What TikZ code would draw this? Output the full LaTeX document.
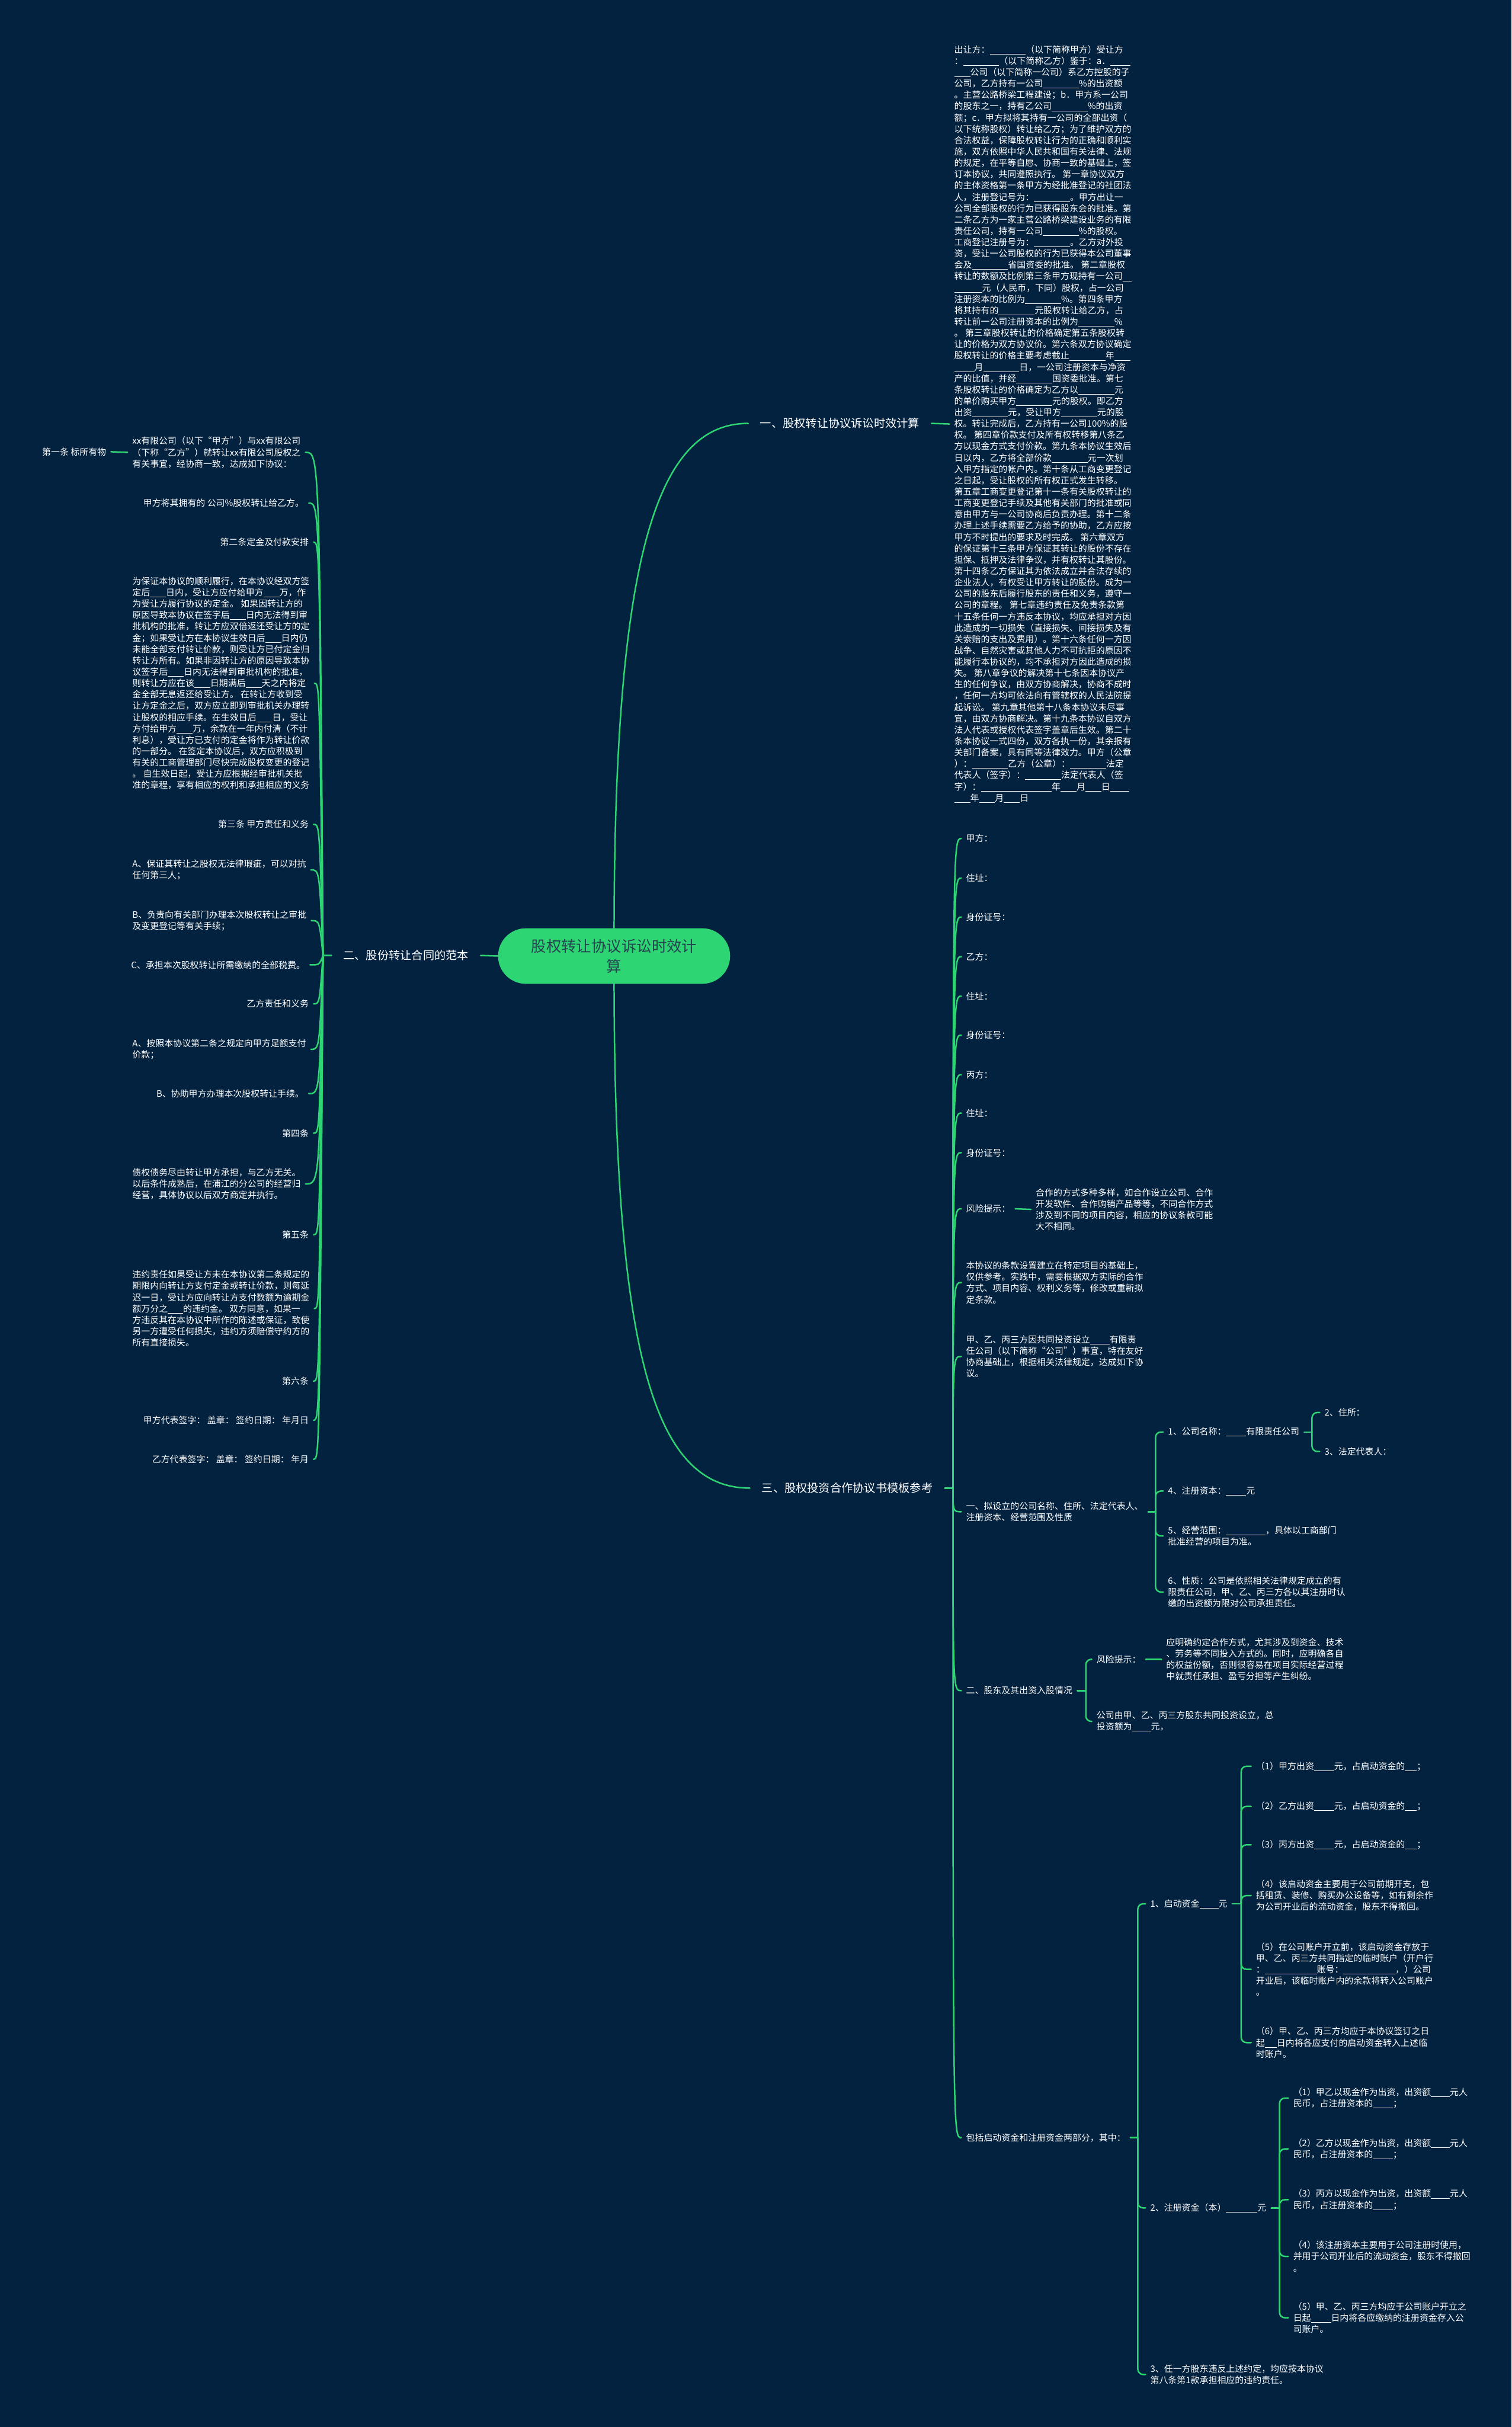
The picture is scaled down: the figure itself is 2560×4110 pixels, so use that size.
\documentclass[tikz,border=0pt]{standalone}
\usepackage{fontspec}
\setmainfont{Noto Sans CJK SC}
\definecolor{bg}{HTML}{022240}
\definecolor{lk}{HTML}{2ED573}
\definecolor{rtx}{HTML}{24444F}
% 空白下划线
\newcommand{\kong}[1]{\rule[-2.5pt]{#1pt}{0.9pt}}

\begin{document}
\begin{tikzpicture}[x=1pt, y=-1pt,
    root/.style={fill=lk, text=rtx, rounded corners=47pt, minimum width=393pt, minimum height=94pt, align=center, font=\fontsize{25.5}{34}\selectfont},
    lab/.style={text=white, inner xsep=20pt, font=\fontsize{19.3}{26}\selectfont},
    txt/.style={text=white, align=left, inner xsep=8pt, inner ysep=1pt, font=\fontsize{15}{19.2}\selectfont},
    link/.style={draw=lk, line width=2.5pt, line cap=round},
    brk/.style={link, rounded corners=9pt}]
    % 背景
    \fill[bg] (0,0) rectangle (2560,4110);
    \useasboundingbox (0,0) rectangle (2560,4110);

    % 中心主题
    \node[root] (root) at (1040,1619) {股权转让协议诉讼时效计\\算};

    % 三个分支
    \node[lab, anchor=west] (b1) at (1267,717) {一、股权转让协议诉讼时效计算};
    \node[lab, anchor=east] (b2) at (814,1618) {二、股份转让合同的范本};
    \node[lab, anchor=west] (b3) at (1270,2520) {三、股权投资合作协议书模板参考};
    \draw[link] (root.north) .. controls (1041,950) and (1110,717) .. (b1.west);
    \draw[link] (root.south) .. controls (1041,2300) and (1110,2520) .. (b3.west);
    \draw[link] (root.west) -- (b2.east);

    % 分支一：协议全文
    \node[txt, anchor=west] (t1) at (1608,718) {出让方：\kong{61}（以下简称甲方）受让方\\
：\kong{61}（以下简称乙方）鉴于：a．\kong{34}\\
\kong{27}公司（以下简称一公司）系乙方控股的子\\
公司，乙方持有一公司\kong{61}\%的出资额\\
。主营公路桥梁工程建设；b．甲方系一公司\\
的股东之一，持有乙公司\kong{61}\%的出资\\
额；c．甲方拟将其持有一公司的全部出资（\\
以下统称股权）转让给乙方；为了维护双方的\\
合法权益，保障股权转让行为的正确和顺利实\\
施，双方依照中华人民共和国有关法律、法规\\
的规定，在平等自愿、协商一致的基础上，签\\
订本协议，共同遵照执行。 第一章协议双方\\
的主体资格第一条甲方为经批准登记的社团法\\
人，注册登记号为：\kong{61}。甲方出让一\\
公司全部股权的行为已获得股东会的批准。第\\
二条乙方为一家主营公路桥梁建设业务的有限\\
责任公司，持有一公司\kong{61}\%的股权。\\
工商登记注册号为：\kong{61}。乙方对外投\\
资，受让一公司股权的行为已获得本公司董事\\
会及\kong{61}省国资委的批准。 第二章股权\\
转让的数额及比例第三条甲方现持有一公司\kong{15}\\
\kong{47}元（人民币，下同）股权，占一公司\\
注册资本的比例为\kong{61}\%。第四条甲方\\
将其持有的\kong{61}元股权转让给乙方，占\\
转让前一公司注册资本的比例为\kong{61}\%\\
。 第三章股权转让的价格确定第五条股权转\\
让的价格为双方协议价。第六条双方协议确定\\
股权转让的价格主要考虑截止\kong{61}年\kong{27}\\
\kong{34}月\kong{61}日，一公司注册资本与净资\\
产的比值，并经\kong{61}国资委批准。第七\\
条股权转让的价格确定为乙方以\kong{61}元\\
的单价购买甲方\kong{61}元的股权。即乙方\\
出资\kong{61}元，受让甲方\kong{61}元的股\\
权。转让完成后，乙方持有一公司100\%的股\\
权。 第四章价款支付及所有权转移第八条乙\\
方以现金方式支付价款。第九条本协议生效后\\
日以内，乙方将全部价款\kong{61}元一次划\\
入甲方指定的帐户内。第十条从工商变更登记\\
之日起，受让股权的所有权正式发生转移。\\
第五章工商变更登记第十一条有关股权转让的\\
工商变更登记手续及其他有关部门的批准或同\\
意由甲方与一公司协商后负责办理。第十二条\\
办理上述手续需要乙方给予的协助，乙方应按\\
甲方不时提出的要求及时完成。 第六章双方\\
的保证第十三条甲方保证其转让的股份不存在\\
担保、抵押及法律争议，并有权转让其股份。\\
第十四条乙方保证其为依法成立并合法存续的\\
企业法人，有权受让甲方转让的股份。成为一\\
公司的股东后履行股东的责任和义务，遵守一\\
公司的章程。 第七章违约责任及免责条款第\\
十五条任何一方违反本协议，均应承担对方因\\
此造成的一切损失（直接损失、间接损失及有\\
关索赔的支出及费用）。第十六条任何一方因\\
战争、自然灾害或其他人力不可抗拒的原因不\\
能履行本协议的，均不承担对方因此造成的损\\
失。 第八章争议的解决第十七条因本协议产\\
生的任何争议，由双方协商解决，协商不成时\\
，任何一方均可依法向有管辖权的人民法院提\\
起诉讼。 第九章其他第十八条本协议未尽事\\
宜，由双方协商解决。第十九条本协议自双方\\
法人代表或授权代表签字盖章后生效。第二十\\
条本协议一式四份，双方各执一份，其余报有\\
关部门备案，具有同等法律效力。甲方（公章\\
）：\kong{61}乙方（公章）：\kong{61}法定\\
代表人（签字）：\kong{61}法定代表人（签\\
字）：\kong{120}年\kong{27}月\kong{27}日\kong{32}\\
\kong{27}年\kong{27}月\kong{27}日};
    \draw[link] (b1.east) -- (t1.west);

    % 分支二：合同范本
    \coordinate (h2) at (547,1618);
    \draw[link] (b2.west) -- (h2);
    \node[txt, anchor=west] (c1) at (216,766) {xx有限公司（以下“甲方”）与xx有限公司\\（下称“乙方”）就转让xx有限公司股权之\\有关事宜，经协商一致，达成如下协议：};
    \node[txt, anchor=east] (c1a) at (188,765) {第一条 标所有物};
    \node[txt, anchor=east] (c2) at (523,852) {甲方将其拥有的 公司\%股权转让给乙方。};
    \node[txt, anchor=east] (c3) at (531,918) {第二条定金及付款安排};
    \node[txt, anchor=west] (c4) at (216,1157) {为保证本协议的顺利履行，在本协议经双方签\\
定后\kong{27}日内，受让方应付给甲方\kong{27}万，作\\
为受让方履行协议的定金。 如果因转让方的\\
原因导致本协议在签字后\kong{27}日内无法得到审\\
批机构的批准，转让方应双倍返还受让方的定\\
金；如果受让方在本协议生效日后\kong{27}日内仍\\
未能全部支付转让价款，则受让方已付定金归\\
转让方所有。如果非因转让方的原因导致本协\\
议签字后\kong{27}日内无法得到审批机构的批准，\\
则转让方应在该\kong{27}日期满后\kong{27}天之内将定\\
金全部无息返还给受让方。 在转让方收到受\\
让方定金之后，双方应立即到审批机关办理转\\
让股权的相应手续。在生效日后\kong{27}日，受让\\
方付给甲方\kong{27}万，余款在一年内付清（不计\\
利息），受让方已支付的定金将作为转让价款\\
的一部分。 在签定本协议后，双方应积极到\\
有关的工商管理部门尽快完成股权变更的登记\\
。 自生效日起，受让方应根据经审批机关批\\
准的章程，享有相应的权利和承担相应的义务};
    \node[txt, anchor=east] (c5) at (531,1396) {第三条 甲方责任和义务};
    \node[txt, anchor=west] (c6) at (216,1473) {A、保证其转让之股权无法律瑕疵，可以对抗\\任何第三人；};
    \node[txt, anchor=west] (c7) at (216,1559) {B、负责向有关部门办理本次股权转让之审批\\及变更登记等有关手续；};
    \node[txt, anchor=east] (c8) at (525,1634) {C、承担本次股权转让所需缴纳的全部税费。};
    \node[txt, anchor=east] (c9) at (531,1700) {乙方责任和义务};
    \node[txt, anchor=west] (c10) at (216,1777) {A、按照本协议第二条之规定向甲方足额支付\\价款；};
    \node[txt, anchor=east] (c11) at (523,1852) {B、协助甲方办理本次股权转让手续。};
    \node[txt, anchor=east] (c12) at (531,1919) {第四条};
    \node[txt, anchor=west] (c13) at (216,2005) {债权债务尽由转让甲方承担，与乙方无关。\\以后条件成熟后，在浦江的分公司的经营归\\经营，具体协议以后双方商定并执行。};
    \node[txt, anchor=east] (c14) at (531,2091) {第五条};
    \node[txt, anchor=west] (c15) at (216,2216) {违约责任如果受让方未在本协议第二条规定的\\
期限内向转让方支付定金或转让价款，则每延\\
迟一日，受让方应向转让方支付数额为逾期金\\
额万分之\kong{26}的违约金。 双方同意，如果一\\
方违反其在本协议中所作的陈述或保证，致使\\
另一方遭受任何损失，违约方须赔偿守约方的\\
所有直接损失。};
    \node[txt, anchor=east] (c16) at (531,2339) {第六条};
    \node[txt, anchor=east] (c17) at (531,2405) {甲方代表签字： 盖章： 签约日期： 年月日};
    \node[txt, anchor=east] (c18) at (531,2471) {乙方代表签字： 盖章： 签约日期： 年月};
    \draw[link] (c1a.east) -- (c1.west);
    \draw[link] (h2) .. controls (541,766) .. (c1.east);
    \draw[link] (h2) .. controls (541,852) .. (c2.east);
    \draw[link] (h2) .. controls (541,918) .. (c3.east);
    \draw[link] (h2) .. controls (541,1157) .. (c4.east);
    \draw[link] (h2) .. controls (541,1396) .. (c5.east);
    \draw[link] (h2) .. controls (541,1473) .. (c6.east);
    \draw[link] (h2) .. controls (541,1559) .. (c7.east);
    \draw[link] (h2) .. controls (541,1634) .. (c8.east);
    \draw[link] (h2) .. controls (541,1700) .. (c9.east);
    \draw[link] (h2) .. controls (541,1777) .. (c10.east);
    \draw[link] (h2) .. controls (541,1852) .. (c11.east);
    \draw[link] (h2) .. controls (541,1919) .. (c12.east);
    \draw[link] (h2) .. controls (541,2005) .. (c13.east);
    \draw[link] (h2) .. controls (541,2091) .. (c14.east);
    \draw[link] (h2) .. controls (541,2216) .. (c15.east);
    \draw[link] (h2) .. controls (541,2339) .. (c16.east);
    \draw[link] (h2) .. controls (541,2405) .. (c17.east);
    \draw[link] (h2) .. controls (541,2471) .. (c18.east);

    % 分支三：投资合作协议书
    \coordinate (h3) at (1614,2520);
    \draw[link] (b3.east) -- (h3);
    \node[txt, anchor=west] (d1) at (1628,1420) {甲方：};
    \node[txt, anchor=west] (d2) at (1628,1487) {住址：};
    \node[txt, anchor=west] (d3) at (1628,1553) {身份证号：};
    \node[txt, anchor=west] (d4) at (1628,1620) {乙方：};
    \node[txt, anchor=west] (d5) at (1628,1687) {住址：};
    \node[txt, anchor=west] (d6) at (1628,1753) {身份证号：};
    \node[txt, anchor=west] (d7) at (1628,1820) {丙方：};
    \node[txt, anchor=west] (d8) at (1628,1885) {住址：};
    \node[txt, anchor=west] (d9) at (1628,1952) {身份证号：};
    \node[txt, anchor=west] (d10) at (1628,2047) {风险提示：};
    \node[txt, anchor=west] (d10a) at (1746,2048) {合作的方式多种多样，如合作设立公司、合作\\开发软件、合作购销产品等等，不同合作方式\\涉及到不同的项目内容，相应的协议条款可能\\大不相同。};
    \node[txt, anchor=west] (d11) at (1628,2172) {本协议的条款设置建立在特定项目的基础上，\\仅供参考。实践中，需要根据双方实际的合作\\方式、项目内容、权利义务等，修改或重新拟\\定条款。};
    \node[txt, anchor=west] (d12) at (1628,2297) {甲、乙、丙三方因共同投资设立\kong{33}有限责\\任公司（以下简称“公司”）事宜，特在友好\\协商基础上，根据相关法律规定，达成如下协\\议。};
    \node[txt, anchor=west] (d13) at (1628,2560) {一、拟设立的公司名称、住所、法定代表人、\\注册资本、经营范围及性质};
    \node[txt, anchor=west] (d14) at (1628,2863) {二、股东及其出资入股情况};
    \node[txt, anchor=west] (d15) at (1628,3620) {包括启动资金和注册资金两部分，其中：};
    \draw[link] (d10.east) -- (d10a.west);
    \draw[link] (h3) .. controls (1614,1420) .. (d1.west);
    \draw[link] (h3) .. controls (1614,1487) .. (d2.west);
    \draw[link] (h3) .. controls (1614,1553) .. (d3.west);
    \draw[link] (h3) .. controls (1614,1620) .. (d4.west);
    \draw[link] (h3) .. controls (1614,1687) .. (d5.west);
    \draw[link] (h3) .. controls (1614,1753) .. (d6.west);
    \draw[link] (h3) .. controls (1614,1820) .. (d7.west);
    \draw[link] (h3) .. controls (1614,1885) .. (d8.west);
    \draw[link] (h3) .. controls (1614,1952) .. (d9.west);
    \draw[link] (h3) .. controls (1614,2047) .. (d10.west);
    \draw[link] (h3) .. controls (1614,2172) .. (d11.west);
    \draw[link] (h3) .. controls (1614,2297) .. (d12.west);
    \draw[link] (h3) .. controls (1614,2560) .. (d13.west);
    \draw[link] (h3) .. controls (1614,2863) .. (d14.west);
    \draw[link] (h3) .. controls (1614,3620) .. (d15.west);

    % 拟设立的公司
    \coordinate (h13) at (1957,2560);
    \draw[link] (d13.east) -- (h13);
    \node[txt, anchor=west] (e1) at (1970,2425) {1、公司名称：\kong{34}有限责任公司};
    \node[txt, anchor=west] (e2) at (1970,2525) {4、注册资本：\kong{34}元};
    \node[txt, anchor=west] (e3) at (1970,2601) {5、经营范围：\kong{67}，具体以工商部门\\批准经营的项目为准。};
    \node[txt, anchor=west] (e4) at (1970,2696) {6、性质：公司是依照相关法律规定成立的有\\限责任公司，甲、乙、丙三方各以其注册时认\\缴的出资额为限对公司承担责任。};
    \draw[brk] (h13) |- (e1.west);
    \draw[brk] (h13) |- (e2.west);
    \draw[brk] (h13) |- (e3.west);
    \draw[brk] (h13) |- (e4.west);
    \coordinate (h131) at (2222,2425);
    \draw[link] (e1.east) -- (h131);
    \node[txt, anchor=west] (e1a) at (2235,2392) {2、住所：};
    \node[txt, anchor=west] (e1b) at (2235,2458) {3、法定代表人：};
    \draw[brk] (h131) |- (e1a.west);
    \draw[brk] (h131) |- (e1b.west);

    % 股东及出资
    \coordinate (h14) at (1839,2863);
    \draw[link] (d14.east) -- (h14);
    \node[txt, anchor=west] (f1) at (1849,2810) {风险提示：};
    \node[txt, anchor=west] (f1a) at (1967,2810) {应明确约定合作方式，尤其涉及到资金、技术\\、劳务等不同投入方式的。同时，应明确各自\\的权益份额，否则很容易在项目实际经营过程\\中就责任承担、盈亏分担等产生纠纷。};
    \node[txt, anchor=west] (f2) at (1849,2915) {公司由甲、乙、丙三方股东共同投资设立，总\\投资额为\kong{32}元，};
    \draw[link] (f1.east) -- (f1a.west);
    \draw[brk] (h14) |- (f1.west);
    \draw[brk] (h14) |- (f2.west);

    % 启动资金和注册资金
    \coordinate (h15) at (1927,3620);
    \draw[link] (d15.east) -- (h15);
    \node[txt, anchor=west] (g1) at (1940,3224) {1、启动资金\kong{32}元};
    \node[txt, anchor=west] (g2) at (1940,3739) {2、注册资金（本）\kong{53}元};
    \node[txt, anchor=west] (g3) at (1940,4021) {3、任一方股东违反上述约定，均应按本协议\\第八条第1款承担相应的违约责任。};
    \draw[brk] (h15) |- (g1.west);
    \draw[brk] (h15) |- (g2.west);
    \draw[brk] (h15) |- (g3.west);

    \coordinate (h151) at (2102,3224);
    \draw[link] (g1.east) -- (h151);
    \node[txt, anchor=west] (g1a) at (2119,2991) {（1）甲方出资\kong{34}元，占启动资金的\kong{20}；};
    \node[txt, anchor=west] (g1b) at (2119,3059) {（2）乙方出资\kong{34}元，占启动资金的\kong{20}；};
    \node[txt, anchor=west] (g1c) at (2119,3124) {（3）丙方出资\kong{34}元，占启动资金的\kong{20}；};
    \node[txt, anchor=west] (g1d) at (2119,3210) {（4）该启动资金主要用于公司前期开支，包\\括租赁、装修、购买办公设备等，如有剩余作\\为公司开业后的流动资金，股东不得撤回。};
    \node[txt, anchor=west] (g1e) at (2119,3335) {（5）在公司账户开立前，该启动资金存放于\\甲、乙、丙三方共同指定的临时账户（开户行\\：\kong{88}账号：\kong{88}，）公司\\开业后，该临时账户内的余款将转入公司账户\\。};
    \node[txt, anchor=west] (g1f) at (2119,3459) {（6）甲、乙、丙三方均应于本协议签订之日\\起\kong{20}日内将各应支付的启动资金转入上述临\\时账户。};
    \draw[brk] (h151) |- (g1a.west);
    \draw[brk] (h151) |- (g1b.west);
    \draw[brk] (h151) |- (g1c.west);
    \draw[brk] (h151) |- (g1d.west);
    \draw[brk] (h151) |- (g1e.west);
    \draw[brk] (h151) |- (g1f.west);

    \coordinate (h152) at (2167,3739);
    \draw[link] (g2.east) -- (h152);
    \node[txt, anchor=west] (g2a) at (2182,3553) {（1）甲乙以现金作为出资，出资额\kong{32}元人\\民币，占注册资本的\kong{34}；};
    \node[txt, anchor=west] (g2b) at (2182,3639) {（2）乙方以现金作为出资，出资额\kong{32}元人\\民币，占注册资本的\kong{34}；};
    \node[txt, anchor=west] (g2c) at (2182,3725) {（3）丙方以现金作为出资，出资额\kong{32}元人\\民币，占注册资本的\kong{34}；};
    \node[txt, anchor=west] (g2d) at (2182,3821) {（4）该注册资本主要用于公司注册时使用，\\并用于公司开业后的流动资金，股东不得撤回\\。};
    \node[txt, anchor=west] (g2e) at (2182,3925) {（5）甲、乙、丙三方均应于公司账户开立之\\日起\kong{34}日内将各应缴纳的注册资金存入公\\司账户。};
    \draw[brk] (h152) |- (g2a.west);
    \draw[brk] (h152) |- (g2b.west);
    \draw[brk] (h152) |- (g2c.west);
    \draw[brk] (h152) |- (g2d.west);
    \draw[brk] (h152) |- (g2e.west);
\end{tikzpicture}
\end{document}
